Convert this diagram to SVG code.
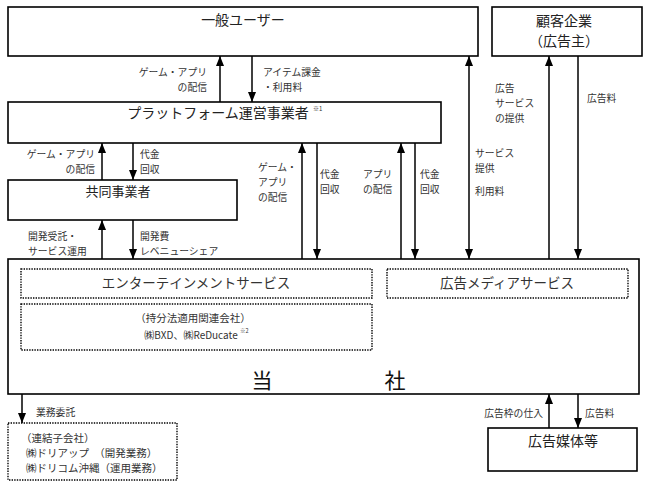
<svg xmlns="http://www.w3.org/2000/svg" width="648" height="487" viewBox="0 0 648 487">
<defs>
<marker id="ah" viewBox="0 0 10 8" refX="10" refY="4" markerWidth="10" markerHeight="8" orient="auto" markerUnits="userSpaceOnUse"><path d="M0,0 L10,4 L0,8 z" fill="#000"/></marker>
<marker id="ahs" viewBox="0 0 10 8" refX="10" refY="4" markerWidth="10" markerHeight="8" orient="auto-start-reverse" markerUnits="userSpaceOnUse"><path d="M0,0 L10,4 L0,8 z" fill="#000"/></marker>
</defs>
<style>
.box{fill:#fff;stroke:#000;stroke-width:1.6}
.dot{fill:none;stroke:#000;stroke-width:1.4;stroke-dasharray:1.4 1.2}
.arr{stroke:#000;stroke-width:1.5;fill:none;marker-end:url(#ah)}
text{font-family:"Noto Sans CJK JP","Noto Sans",sans-serif;fill:#333}
.t{font-size:14px;fill:#222}
.l{font-size:9.8px}
.m{font-size:10.5px}
.e{text-anchor:end}
.c{text-anchor:middle}
</style>
<rect width="648" height="487" fill="#fff"/>
<g id="connectors">
<line class="arr" x1="220" y1="102" x2="220" y2="56"/>
<line class="arr" x1="252" y1="56" x2="252" y2="102"/>
<line class="arr" x1="102" y1="180" x2="102" y2="143"/>
<line class="arr" x1="133" y1="143" x2="133" y2="180"/>
<line class="arr" x1="102" y1="259" x2="102" y2="220"/>
<line class="arr" x1="133" y1="220" x2="133" y2="259"/>
<line class="arr" x1="302" y1="259" x2="302" y2="143"/>
<line class="arr" x1="317" y1="143" x2="317" y2="259"/>
<line class="arr" x1="401" y1="259" x2="401" y2="143"/>
<line class="arr" x1="415" y1="143" x2="415" y2="259"/>
<line class="arr" x1="469" y1="56" x2="469" y2="259" style="marker-start:url(#ahs)"/>
<line class="arr" x1="549" y1="259" x2="549" y2="56"/>
<line class="arr" x1="578" y1="56" x2="578" y2="259"/>
<line class="arr" x1="22" y1="394" x2="22" y2="423"/>
<line class="arr" x1="549" y1="428" x2="549" y2="394"/>
<line class="arr" x1="578" y1="394" x2="578" y2="428"/>
<text class="l e" x="207" y="76">ゲーム・アプリ</text>
<text class="l e" x="207" y="91">の配信</text>
<text class="l" x="263" y="76">アイテム課金</text>
<text class="l" x="263" y="91">・利用料</text>
<text class="l e" x="95" y="158">ゲーム・アプリ</text>
<text class="l e" x="95" y="173">の配信</text>
<text class="l" x="140" y="158">代金</text>
<text class="l" x="140" y="173">回収</text>
<text class="l" x="28" y="240">開発受託・</text>
<text class="l" x="28" y="255">サービス運用</text>
<text class="l" x="140" y="240">開発費</text>
<text class="l" x="140" y="255">レベニューシェア</text>
<text class="l" x="258" y="171">ゲーム・</text>
<text class="l" x="258" y="186">アプリ</text>
<text class="l" x="258" y="201">の配信</text>
<text class="l" x="320" y="178">代金</text>
<text class="l" x="320" y="193">回収</text>
<text class="l" x="363" y="178">アプリ</text>
<text class="l" x="363" y="193">の配信</text>
<text class="l" x="420" y="178">代金</text>
<text class="l" x="420" y="193">回収</text>
<text class="l" x="475" y="157">サービス</text>
<text class="l" x="475" y="172">提供</text>
<text class="l" x="475" y="195">利用料</text>
<text class="l" x="495" y="92">広告</text>
<text class="l" x="495" y="107">サービス</text>
<text class="l" x="495" y="122">の提供</text>
<text class="l" x="587" y="102">広告料</text>
<text class="l" x="36" y="416">業務委託</text>
<text class="l e" x="543" y="417">広告枠の仕入</text>
<text class="l" x="585" y="417">広告料</text>
</g>
<g id="user">
<rect class="box" x="8" y="7" width="470" height="49"/>
<text class="t c" x="243" y="25">一般ユーザー</text>
</g>
<g id="client">
<rect class="box" x="492" y="7" width="150" height="49"/>
<text class="t c" x="564" y="26">顧客企業</text>
<text class="t c" x="564" y="46">（広告主）</text>
</g>
<g id="platform">
<rect class="box" x="8" y="102" width="433" height="41"/>
<text class="t c" x="218" y="118">プラットフォーム運営事業者</text>
<text x="313" y="111" style="font-size:6px">※1</text>
</g>
<g id="partner">
<rect class="box" x="8" y="180" width="229" height="40"/>
<text class="t c" x="118" y="196" style="font-size:13px">共同事業者</text>
</g>
<g id="company">
<rect class="box" x="8" y="259" width="631" height="135"/>
<text x="262" y="388" class="c" style="font-size:21px;fill:#111">当</text>
<text x="395" y="388" class="c" style="font-size:21px;fill:#111">社</text>
</g>
<g id="entertainment">
<rect class="dot" x="21" y="269" width="351" height="29"/>
<text class="c" x="196" y="288" style="font-size:13.5px">エンターテインメントサービス</text>
</g>
<g id="affiliates">
<rect class="dot" x="21" y="304" width="351" height="46"/>
<text class="c" x="193" y="322" style="font-size:10.5px">（持分法適用関連会社）</text>
<text class="c" x="191" y="339" style="font-size:10px">㈱BXD、㈱ReDucate</text>
<text x="240" y="333" style="font-size:5.5px">※2</text>
</g>
<g id="admedia">
<rect class="dot" x="387" y="269" width="241" height="29"/>
<text class="c" x="507" y="288" style="font-size:13.5px">広告メディアサービス</text>
</g>
<g id="subsidiaries">
<rect class="dot" x="8" y="423" width="169" height="57"/>
<text class="m" x="21" y="442">（連結子会社）</text>
<text class="m" x="26" y="457" xml:space="preserve">㈱ドリアップ　（開発業務）</text>
<text class="m" x="26" y="472">㈱ドリコム沖縄（運用業務）</text>
</g>
<g id="media">
<rect class="box" x="488" y="428" width="149" height="43"/>
<text class="t c" x="563" y="446">広告媒体等</text>
</g>
</svg>
